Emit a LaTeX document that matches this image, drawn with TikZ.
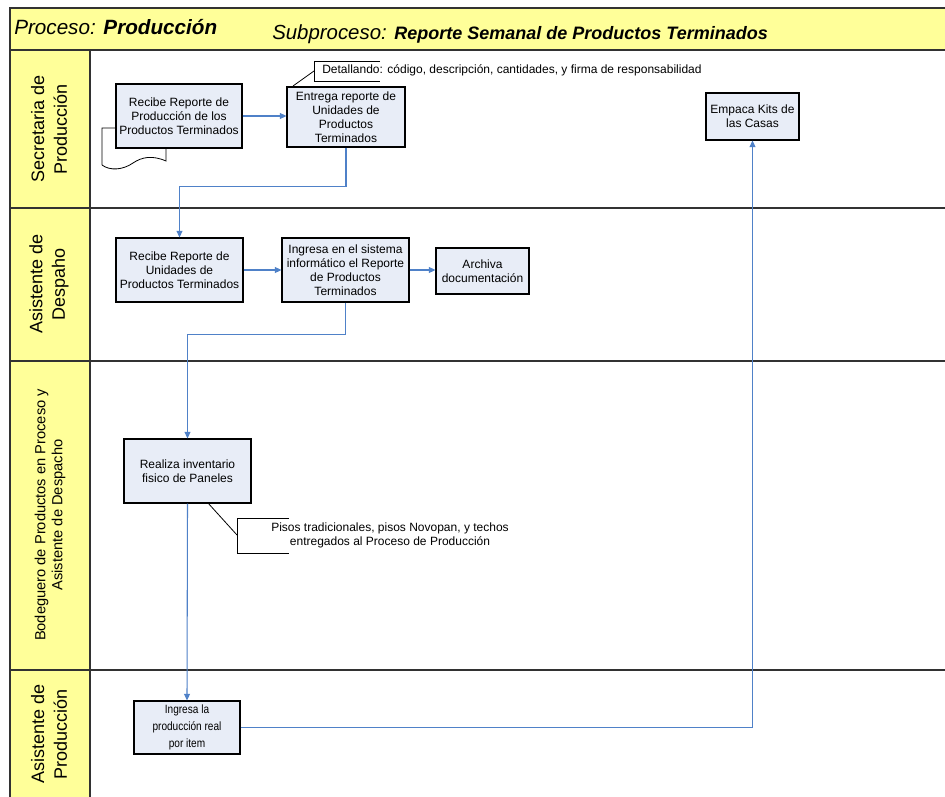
\documentclass[tikz,border=0pt]{standalone}
\usepackage{fontspec}
\setmainfont{Liberation Sans}
\newfontfamily\narrowfont[FakeStretch=0.84]{Liberation Sans}
\usetikzlibrary{arrows.meta}
\definecolor{hdryellow}{RGB}{255,255,153}
\definecolor{boxfill}{RGB}{232,237,247}
\definecolor{flowblue}{RGB}{79,129,200}
\definecolor{lanegray}{RGB}{50,50,50}
\tikzset{
  bx/.style 2 args={minimum width=#1*0.75pt, minimum height=#2*0.75pt},
  proc/.style={draw=black, line width=0.8pt, fill=boxfill, align=center,
    font=\fontsize{9}{10.5}\selectfont, inner sep=0pt},
  flow/.style={draw=flowblue, line width=0.8pt, -{Triangle[length=5pt,width=4.5pt]}},
  lanesep/.style={draw=lanegray, line width=1.4pt},
  lanelbl/.style={rotate=90, align=center, font=\fontsize{13.5}{17}\selectfont, inner sep=0pt},
  notetext/.style={font=\fontsize{9}{10.5}\selectfont, inner sep=0pt},
  leader/.style={draw=black, line width=0.6pt},
}
\begin{document}
\begin{tikzpicture}[x=0.75pt,y=-0.75pt]
\useasboundingbox[fill=white] (0,0) rectangle (945,796);
% header
\fill[hdryellow] (10,8) rectangle (946,50);
\draw[lanegray, line width=1.2pt] (946,8) -- (10,8) -- (10,50);
% lane label column
\fill[hdryellow] (10,50) rectangle (90,797);
\draw[lanesep] (10,50) -- (946,50);
\draw[lanesep] (10,208) -- (946,208);
\draw[lanesep] (10,361) -- (946,361);
\draw[lanesep] (10,670) -- (946,670);
\draw[lanesep] (10,50) -- (10,797);
\draw[lanesep] (90,50) -- (90,797);
% header texts
\node[anchor=base west, inner sep=0pt] (hproc) at (14,34)
  {\fontsize{15.5}{18}\selectfont\itshape Proceso: \bfseries Producción};
\node[anchor=base west, inner sep=0pt] (hsub) at (272,39)
  {\fontsize{15.3}{18}\selectfont\itshape Subproceso: {\fontsize{13.5}{16}\selectfont\bfseries Reporte Semanal de Productos Terminados}};
% lane labels
\node[lanelbl] (l1) at (49,129) {Secretaria de\\Producción};
\node[lanelbl] (l2) at (49,284) {Asistente de\\Despaho};
\node[lanelbl, font=\fontsize{11}{12.8}\selectfont] (l3) at (50,515) {Bodeguero de Productos en Proceso y\\Asistente de Despacho};
\node[lanelbl] (l4) at (49,734) {Asistente de\\Producción};
% document shape behind first box
\draw[black, line width=0.6pt, fill=white] (102,165) -- (102,128) -- (166,128) -- (166,161)
  .. controls (152,155) and (142,157) .. (133,163)
  .. controls (123,170) and (110,171) .. (102,165);
% process boxes
\node[proc, bx={126}{64}] (rpp) at (179,116) {Recibe Reporte de\\Producción de los\\Productos Terminados};
\node[proc, bx={118}{60}] (erp) at (346,117) {Entrega reporte de\\Unidades de\\Productos\\Terminados};
\node[proc, bx={93}{47}] (ekc) at (752.5,116.5) {Empaca Kits de\\las Casas};
\node[proc, bx={127}{64}] (rru) at (179.5,270) {Recibe Reporte de\\Unidades de\\Productos Terminados};
\node[proc, bx={127}{64}] (ing) at (345.5,270) {Ingresa en el sistema\\informático el Reporte\\de Productos\\Terminados};
\node[proc, bx={93}{46}] (arc) at (482.5,271) {Archiva\\documentación};
\node[proc, bx={127}{64}] (rip) at (187.5,471) {Realiza inventario\\fisico de Paneles};
\node[proc, bx={106}{53}, font=\narrowfont\fontsize{9}{13}\selectfont] (ipr) at (187,727.5) {Ingresa la\\producción real\\por item};
% connectors
\draw[flow] (rpp.east) -- (rpp.east -| erp.west);
\draw[flow] (erp.south) -- ++(0,39) -| (rru.north);
\draw[flow] (rru.east) -- (ing.west);
\draw[flow] (ing.east) -- (ing.east -| arc.west);
\draw[flow] (ing.south) -- ++(0,32) -| (rip.north);
\draw[flow] (rip.south) -- (ipr.north);
\draw[flow] (ipr.east) -| (ekc.south);
% annotation 1
\coordinate (a1) at (314,71);
\coordinate (a1t) at (293,86);
\draw[leader] (380,61) -- (314,61) -- (314,81) -- (380,81);
\draw[leader] (a1) -- (a1t);
\node[notetext, anchor=west] (n1) at (322,70) {Detallando: código, descripción, cantidades, y firma de responsabilidad};
% annotation 2
\coordinate (a2) at (237,535);
\coordinate (a2t) at (208,503);
\draw[leader] (289,518) -- (237,518) -- (237,553) -- (289,553);
\draw[leader] (a2) -- (a2t);
\node[notetext, align=center] (n2) at (390,535) {Pisos tradicionales, pisos Novopan, y techos\\entregados al Proceso de Producción};
\end{tikzpicture}
\end{document}
